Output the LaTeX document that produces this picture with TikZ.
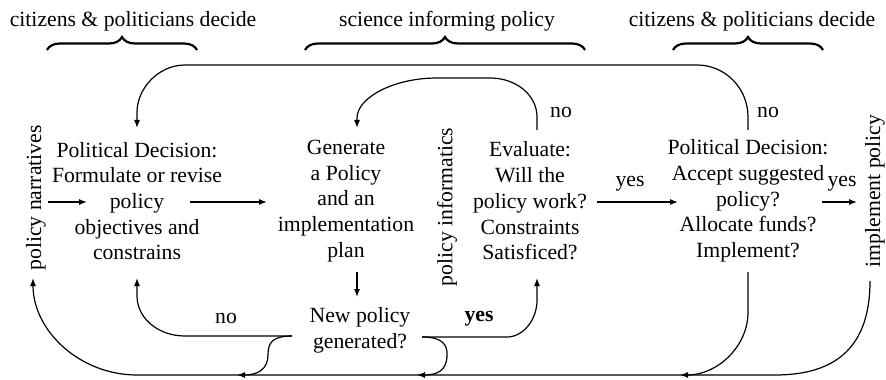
\documentclass[tikz,border=0pt]{standalone}
\usepackage{fontspec}
\setmainfont{Liberation Serif}
\usetikzlibrary{arrows.meta,decorations.pathreplacing,calc}
\begin{document}
\begin{tikzpicture}[x=0.5pt,y=-0.5pt,
  every node/.style={inner sep=0pt, font=\fontsize{10.85}{12.85}\selectfont},
  box/.style={align=center},
  side/.style={rotate=90},
  conn/.style={line width=0.6pt, -{Latex[length=4pt,width=3pt]}},
  group/.style={decorate, decoration={brace, amplitude=6.5pt}, line width=1.1pt},
]
\useasboundingbox (0,0) rectangle (886,379);

% who acts at each stage
\node[anchor=base] (t1) at (133,27) {citizens \& politicians decide};
\node[anchor=base] (t2) at (447,27) {science informing policy};
\node[anchor=base] (t3) at (752,27) {citizens \& politicians decide};
\draw[group] (47,50) -- (197,50);
\draw[group] (305,50) -- (585,50);
\draw[group] (673,50) -- (823,50);

% stages of the cycle
\node[side] (narr) at (36,198) {policy narratives};
\node[box] (pol) at (137,201) {Political Decision:\\Formulate or revise\\policy\\objectives and\\constrains};
\node[box] (gen) at (346,201) {Generate\\a Policy\\and an\\implementation\\plan};
\node[side] (info) at (447,207) {policy informatics};
\node[box] (eval) at (530,201) {Evaluate:\\Will the\\policy work?\\Constraints\\Satisficed?};
\node[box] (acc) at (748,201) {Political Decision:\\Accept suggested\\policy?\\Allocate funds?\\Implement?};
\node[side] (impl) at (875,191) {implement policy};
\node[box] (new) at (360,330) {New policy\\generated?};

% branch labels
\node (no1) at (561,112) {no};
\node (no2) at (768,112) {no};
\node (yes1) at (630,184) {yes};
\node (yes2) at (842,184) {yes};
\node (no3) at (226,318) {no};
\node (yes3) at (479,319) {\textbf{yes}};

% points where returns meet the bottom line
\coordinate (m1) at (237,375);
\coordinate (m2) at (417,375);
\coordinate (m3) at (680,375);

% forward flow
\draw[conn] ($(narr)+(12,4)$) -- ($(pol)+(-50,1)$);
\draw[conn] ($(pol)+(53,1)$) -- ($(gen)+(-79,1)$);
\draw[conn] ($(eval)+(67,1)$) -- ($(acc)+(-70,1)$);
\draw[conn] ($(acc)+(74,1)$) -- ($(impl)+(-18,11)$);
\draw[conn] ($(gen)+(11,71)$) -- ($(new)+(-3,-33)$);

% top returns
\draw[conn] ($(acc)+(0,-71)$) -- (748,117) .. controls (748,88) and (725,65) .. (697,65)
  -- (185,65) .. controls (158,65) and (137,89) .. (137,112) -- ($(pol)+(0,-73)$);
\draw[conn] ($(eval)+(7,-71)$) -- (537,117) .. controls (537,95) and (516,78) .. (490,78)
  -- (437,78) .. controls (393,78) and (357,98) .. (357,118) -- ($(gen)+(11,-73)$);

% bottom returns
\draw[conn] ($(new)+(-68,6)$) -- (185,336) .. controls (158,336) and (137,318) .. (137,296) -- ($(pol)+(0,77)$);
\draw[conn] ($(new)+(-68,6)$) .. controls (272,336) and (268,343) .. (268,355)
  .. controls (268,369) and (258,375) .. (m1);
\draw[conn] ($(new)+(62,7)$) .. controls (443,337) and (448,345) .. (447,357)
  .. controls (446,370) and (438,375) .. (m2);
\draw[conn] ($(new)+(62,7)$) -- (507,337) .. controls (523,337) and (537,320) .. (537,300) -- ($(eval)+(7,77)$);
\draw[conn] ($(acc)+(0,71)$) -- (748,312) .. controls (748,347) and (717,375) .. (m3);
\draw[conn] ($(impl)+(-5,90)$) .. controls (870,345) and (838,375) .. (775,375)
  -- (137,375) .. controls (80,375) and (33,331) .. ($(narr)+(-3,80)$);
\end{tikzpicture}
\end{document}
